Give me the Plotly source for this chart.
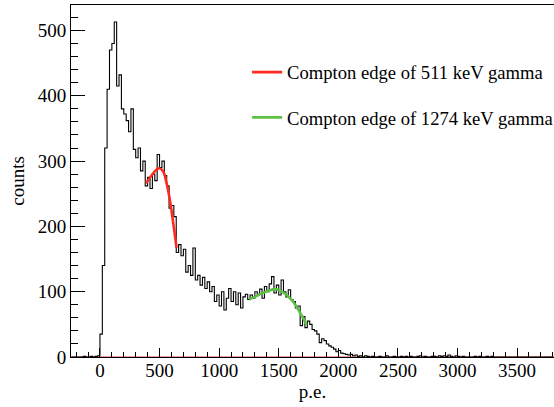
import numpy as np
import plotly.graph_objects as go

# ---- histogram data (p.e. spectrum), 20 p.e. bins starting at -240 ----
BIN_START = -240
BIN_WIDTH = 20
counts = (
    [0, 0, 0, 0, 0, 1, 0, 0, 1, 0, 1, 2]                                   # -240 .. -20
    + [35, 140, 320, 410, 470, 480, 513, 415, 432, 380,
       372, 362, 345, 380, 318, 305, 320, 285, 300, 262]                    # 0 .. 380
    + [275, 258, 280, 270, 310, 290, 300, 278, 262, 228,
       232, 215, 160, 172, 155, 165, 130, 140, 125, 167]                    # 400 .. 780
    + [118, 125, 110, 122, 105, 115, 100, 108, 85, 95,
       78, 100, 72, 90, 105, 85, 100, 80, 98, 75]                           # 800 .. 1180
    + [92, 96, 88, 95, 90, 100, 96, 104, 90, 108,
       100, 112, 123, 98, 110, 95, 118, 100, 92, 103]                       # 1200 .. 1580
    + [88, 85, 75, 78, 48, 62, 45, 55, 50, 42,
       40, 35, 22, 28, 25, 20, 17, 15, 12, 8]                               # 1600 .. 1980
    + [10, 6, 5, 4, 3, 4, 2, 3, 1, 2, 0, 2, 1, 0, 1, 0, 0, 1, 0, 0]        # 2000 .. 2380
    + [2, 0, 0, 1, 0, 0, 1, 0, 1, 0, 1, 0, 0, 1, 2, 0, 1, 0, 0, 1]         # 2400 .. 2780
    + [1, 0, 2, 1, 2, 1, 3, 1, 0, 2, 1, 0, 1, 0, 0, 0, 0, 1, 0, 1]         # 2800 .. 3180
    + [0, 0, 1, 0, 1, 0, 0, 0, 0, 0, 0, 0, 0, 0, 0, 0, 0, 0, 0, 0]         # 3200 .. 3580
    + [0, 0, 0, 0, 0, 0, 0, 0, 0, 0]                                        # 3600 .. 3780
)

# ---- fitted Compton-edge curves ----
fit511_x = [386, 433, 475, 498, 531, 559, 587, 615, 643]
fit511_y = [266, 278, 287, 289, 284, 266, 240, 205, 167]
fit1274_x = [1253, 1300, 1356, 1410, 1468, 1520, 1566, 1610, 1650, 1690, 1734]
fit1274_y = [88, 92, 97, 101, 104, 101, 95, 87, 77, 64, 49]

legend_names = ["Compton edge of 511 keV gamma", "Compton edge of 1274 keV gamma"]
x_title = "p.e."
y_title = "counts"

# ---- build ----
edges = BIN_START + BIN_WIDTH * np.arange(len(counts) + 1)
step_y = list(counts) + [counts[-1]]

FONT = "Liberation Serif"
tfont = dict(family=FONT, size=19, color="black")

fig = go.Figure()
fig.add_trace(go.Scatter(x=edges, y=step_y, mode="lines", line_shape="hv",
                         line=dict(color="black", width=1.1), showlegend=False,
                         hoverinfo="skip"))
fig.add_trace(go.Scatter(x=fit511_x, y=fit511_y, mode="lines", line_shape="spline",
                         line=dict(color="#ff2a1f", width=2.6), name=legend_names[0],
                         legendgroup="a", hoverinfo="skip"))
fig.add_trace(go.Scatter(x=fit1274_x, y=fit1274_y, mode="lines", line_shape="spline",
                         line=dict(color="#5cc043", width=2.6), name=legend_names[1],
                         legendgroup="b", hoverinfo="skip"))

# red baseline along y = 0
fig.add_shape(type="line", xref="paper", x0=0, x1=1, yref="y", y0=0, y1=0,
              line=dict(color="#e83a2a", width=1.2), layer="below")

fig.update_layout(
    width=554, height=407,
    margin=dict(l=71, r=0, t=5, b=50, autoexpand=False),
    paper_bgcolor="white", plot_bgcolor="white",
    font=tfont,
    showlegend=True,
    legend=dict(x=0.3646, y=0.862, xanchor="left", yanchor="top",
                bgcolor="rgba(0,0,0,0)", font=dict(family=FONT, size=18.6),
                traceorder="grouped", tracegroupgap=18),
    xaxis=dict(range=[-243, 3810], showgrid=False, zeroline=False,
               showline=True, linecolor="black", linewidth=1, mirror=True,
               ticks="inside", ticklen=9, tickcolor="black", tickwidth=1,
               dtick=500, tick0=0, tickfont=tfont, automargin=False,
               ticklabelstandoff=-4,
               minor=dict(ticks="inside", ticklen=5, dtick=100, tickcolor="black"),
               title=dict(text=x_title, standoff=0, font=tfont)),
    yaxis=dict(range=[0, 539], showgrid=False, zeroline=False,
               showline=True, linecolor="black", linewidth=1, mirror=True,
               ticks="inside", ticklen=14, tickcolor="black", tickwidth=1,
               dtick=100, tick0=0, tickfont=tfont, automargin=False,
               minor=dict(ticks="inside", ticklen=7, dtick=20, tickcolor="black"),
               title=dict(text=y_title, standoff=8, font=tfont)),
)

fig.write_html("out.html", config={"displayModeBar": False},
               post_script="document.body.style.margin='0';")
